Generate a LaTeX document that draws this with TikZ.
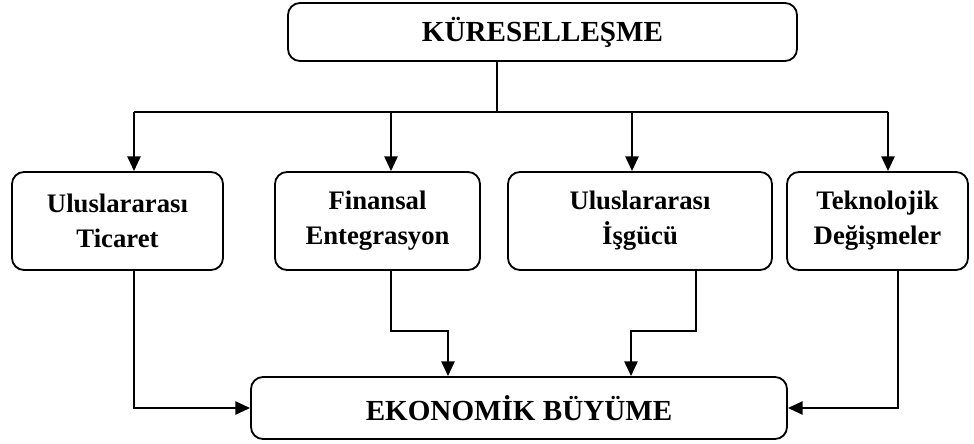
\documentclass[tikz,border=0pt]{standalone}
\usepackage{fontspec}
\setmainfont{Liberation Serif}
\usepackage{tikz}
\usetikzlibrary{arrows.meta}
\newcommand{\pxu}{0.025cm}

\begin{document}
\begin{tikzpicture}[x=0.025cm, y=-0.025cm,
  kutu/.style={draw, line width=1.3pt, rounded corners=0.3cm, align=center, inner sep=0pt,
    font=\fontsize{19}{24.8}\selectfont\bfseries},
  buyuk/.style={kutu, font=\fontsize{20.7}{24}\selectfont\bfseries},
  ok/.style={line width=1.5pt, -{Triangle[length=0.37cm, width=0.33cm]}}]
\useasboundingbox (0,0) rectangle (974,443);

\node [buyuk, minimum width=509*\pxu, minimum height=58*\pxu] (kur) at (542.5,32) {KÜRESELLEŞME};

\node [kutu, minimum width=211*\pxu, minimum height=98*\pxu] (ticaret) at (117.5,221) {Uluslararası\\Ticaret};
\node [kutu, minimum width=205*\pxu, minimum height=98*\pxu] (finans) at (377.5,221) {Finansal\\Entegrasyon};
\node [kutu, minimum width=264*\pxu, minimum height=98*\pxu] (isgucu) at (640,221) {Uluslararası\\İşgücü};
\node [kutu, minimum width=181*\pxu, minimum height=98*\pxu] (teknoloji) at (877.5,221) {Teknolojik\\Değişmeler};

\node [buyuk, minimum width=536*\pxu, minimum height=62*\pxu] (buyume) at (519,408) {EKONOMİK BÜYÜME};

\coordinate (bus) at (497,112);
\coordinate (b1) at (134,112);
\coordinate (b2) at (391,112);
\coordinate (b3) at (632,112);
\coordinate (b4) at (888,112);
\draw [line width=1.5pt] (kur.south -| bus) -- (bus);
\draw [line width=1.5pt] (b1) -- (b4);
\draw [ok] (b1) -- (b1 |- ticaret.north);
\draw [ok] (b2) -- (b2 |- finans.north);
\draw [ok] (b3) -- (b3 |- isgucu.north);
\draw [ok] (b4) -- (b4 |- teknoloji.north);

\coordinate (d2) at (391,331);
\coordinate (m2) at (448,331);
\coordinate (d3) at (696,331);
\coordinate (m3) at (631,331);
\coordinate (d4) at (898,331);
\draw [ok] (b1 |- ticaret.south) |- (buyume.west);
\draw [ok] (d2 |- finans.south) -- (d2) -- (m2) -- (m2 |- buyume.north);
\draw [ok] (d3 |- isgucu.south) -- (d3) -- (m3) -- (m3 |- buyume.north);
\draw [ok] (d4 |- teknoloji.south) |- (buyume.east);
\end{tikzpicture}
\end{document}
